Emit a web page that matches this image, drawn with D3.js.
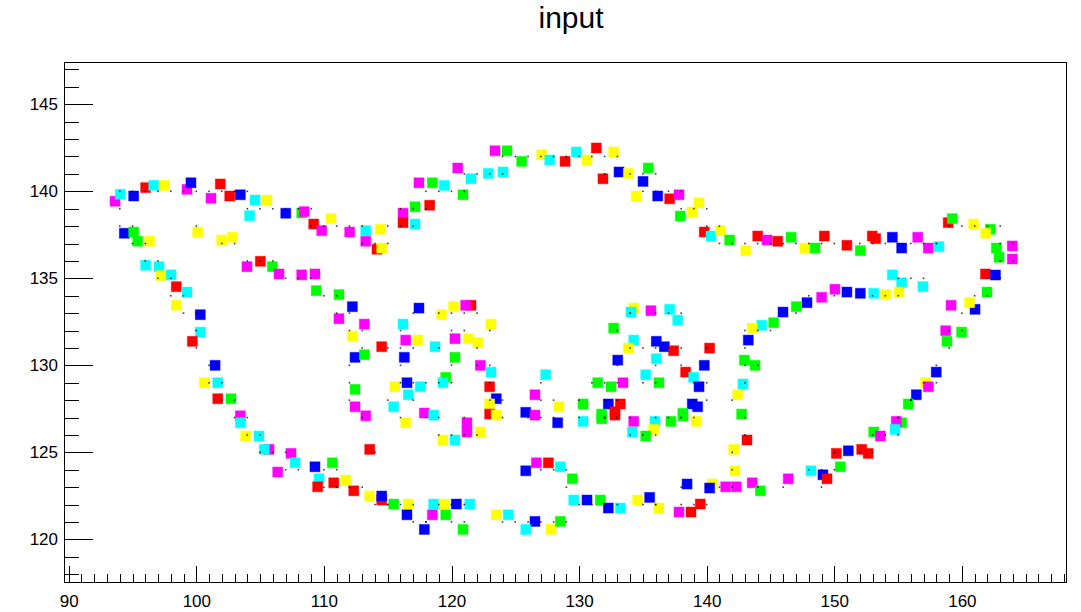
<!DOCTYPE html>
<html>
<head>
<meta charset="utf-8">
<script src="https://cdn.jsdelivr.net/npm/d3@7"></script>
<style>
  body { margin: 0; background: #fff; }
  text { font-family: "Liberation Sans", Arial, Helvetica, sans-serif; }
</style>
</head>
<body>
<div id="chart"></div>
<script>
const chartTitle = "input";
const xDomain = [89.63, 168.16];
const yDomain = [117.55, 147.43];
const xTickValues = [90, 100, 110, 120, 130, 140, 150, 160];
const yTickValues = [120, 125, 130, 135, 140, 145];

const markerColours = { r: "#ff0000", g: "#00ff00", b: "#0000ff", y: "#ffff00", m: "#ff00ff", c: "#00ffff" };

// coloured markers: [colour, x, y]
const markers = [
  ["m",93.63,139.43],["c",94.04,139.83],["b",95.09,139.73],["r",96.03,140.21],["c",96.66,140.34],["y",97.49,140.34],
  ["m",99.27,140.11],["b",99.58,140.49],["m",101.15,139.60],["r",101.88,140.42],["r",102.62,139.73],["b",103.45,139.80],
  ["c",104.60,139.50],["y",105.54,139.50],["c",104.18,138.60],["b",107.01,138.74],["g",108.26,138.75],["m",108.46,138.83],
  ["r",109.20,138.12],["m",109.83,137.74],["b",94.36,137.59],["g",95.09,137.66],["g",95.41,137.13],["y",96.35,137.13],
  ["y",100.11,137.66],["y",101.99,137.20],["y",102.82,137.36],["c",96.03,135.75],["c",97.08,135.67],["y",97.23,135.15],
  ["c",98.02,135.20],["m",103.97,135.67],["r",105.02,135.98],["g",105.96,135.67],["m",106.48,135.25],["m",108.26,135.20],
  ["m",109.30,135.25],["g",109.40,134.29],["r",98.43,134.52],["c",99.27,134.21],["y",98.43,133.45],["b",100.31,132.91],
  ["c",100.31,131.91],["r",99.69,131.38],["b",101.47,130.00],["y",100.63,129.00],["c",101.68,129.00],["r",101.68,128.08],
  ["g",102.72,128.08],["m",103.45,127.10],["c",103.45,126.70],["y",103.87,125.94],["c",104.91,125.94],["m",105.70,125.17],
  ["c",105.33,125.17],["m",107.42,124.94],["m",106.38,123.87],["c",107.74,124.40],["b",109.30,124.17],["c",109.62,123.48],
  ["r",109.51,123.02],["y",110.56,138.43],["m",112.02,137.66],["c",113.28,137.74],["m",113.28,137.13],["y",114.42,137.82],
  ["r",114.16,136.67],["y",114.53,136.74],["m",116.20,138.74],["r",116.20,138.20],["g",117.14,139.11],["c",117.14,138.12],
  ["r",118.29,139.20],["m",117.45,140.49],["g",118.50,140.49],["c",119.44,140.34],["g",120.90,139.80],["m",120.49,141.34],
  ["c",121.53,140.72],["c",122.88,141.03],["c",124.04,141.11],["m",123.41,142.33],["g",124.35,142.33],["g",125.50,141.72],
  ["y",127.07,142.10],["c",127.70,141.80],["r",128.90,141.72],["c",129.78,142.26],["y",130.62,141.80],["r",131.35,142.49],
  ["y",132.71,142.26],["r",131.87,140.72],["b",133.13,141.11],["y",133.86,141.03],["g",135.42,141.34],["b",135.01,140.57],
  ["y",134.48,139.73],["b",136.16,139.73],["r",137.10,139.57],["m",137.83,139.80],["y",139.40,139.34],["y",138.87,138.81],
  ["g",137.93,138.58],["r",139.81,137.66],["c",140.34,137.43],["y",141.07,137.74],["g",141.80,137.20],["y",143.06,136.59],
  ["r",144.00,137.43],["m",144.73,137.20],["r",145.56,137.13],["g",146.61,137.36],["y",147.70,136.74],["g",148.49,136.74],
  ["r",149.22,137.43],["r",150.99,136.90],["g",152.04,136.59],["r",152.98,137.43],["r",153.24,137.28],["b",154.55,137.36],
  ["b",155.28,136.74],["m",156.54,137.36],["m",157.37,136.74],["c",158.20,136.82],["r",158.93,138.20],["g",159.25,138.43],
  ["y",160.92,138.12],["g",162.23,137.82],["y",161.87,137.59],["g",162.70,136.74],["g",162.91,136.21],["m",163.95,136.86],
  ["m",163.95,136.11],["c",154.55,135.20],["c",155.28,134.75],["c",156.95,134.52],["r",161.85,135.25],["b",162.63,135.19],
  ["b",147.86,133.60],["m",149.01,133.91],["m",150.05,134.37],["b",150.99,134.21],["b",152.04,134.14],["c",153.09,134.14],
  ["y",154.03,134.06],["y",155.07,134.21],["g",161.97,134.21],["b",161.03,133.22],["y",160.61,133.60],["m",159.15,133.45],
  ["m",158.73,131.99],["g",159.98,131.91],["g",158.83,131.38],["b",157.99,129.61],["y",157.16,129.00],["m",157.37,128.77],
  ["b",156.43,128.31],["g",155.80,127.78],["y",134.28,133.29],["c",134.07,133.06],["m",135.63,133.14],["c",137.10,133.22],
  ["c",137.73,132.60],["g",132.71,132.14],["c",134.28,131.45],["y",133.86,130.99],["b",136.05,131.38],["b",136.68,131.07],
  ["r",137.41,130.84],["r",140.23,130.99],["b",133.03,130.30],["c",136.05,130.38],["b",139.81,130.00],["r",138.35,129.61],
  ["c",138.98,129.31],["b",139.40,128.77],["c",135.22,129.46],["g",131.46,129.00],["g",132.50,128.77],["m",133.44,129.00],
  ["g",136.26,129.00],["g",130.31,127.78],["b",132.29,127.78],["r",133.23,127.78],["r",132.81,127.33],["g",131.77,127.20],
  ["b",138.87,127.78],["b",139.29,127.62],["g",138.14,127.24],["g",147.02,133.37],["b",145.98,133.06],["g",145.25,132.45],
  ["c",144.31,132.30],["y",143.57,132.14],["b",143.26,131.45],["g",142.95,130.30],["g",143.79,130.00],["c",142.84,128.93],
  ["y",142.43,128.31],["g",142.74,127.20],["g",111.18,134.06],["b",112.23,133.37],["m",111.18,132.68],["m",113.17,132.37],
  ["b",117.45,133.29],["y",119.23,132.91],["y",120.17,133.37],["r",121.53,133.45],["m",121.11,133.45],["c",116.20,132.37],
  ["y",123.10,132.37],["y",112.23,131.68],["r",114.53,131.07],["m",116.41,131.45],["y",117.35,131.45],["c",118.71,131.07],
  ["m",120.27,131.53],["y",121.32,131.53],["y",122.05,131.30],["b",112.44,130.46],["g",113.17,130.61],["b",116.30,130.46],
  ["g",120.27,130.46],["m",122.26,130.00],["c",123.10,129.61],["c",127.38,129.46],["g",119.55,129.31],["c",119.33,129.00],
  ["b",116.51,129.00],["y",115.57,128.77],["c",117.55,128.77],["g",112.44,128.62],["c",116.61,128.31],["r",122.99,128.77],
  ["b",123.51,128.08],["y",122.99,127.78],["m",126.54,128.31],["m",112.44,127.62],["c",115.47,127.62],["m",113.28,127.10],
  ["m",117.87,127.26],["c",118.60,127.14],["r",122.99,127.20],["y",123.51,127.14],["b",125.82,127.30],["m",126.54,127.14],
  ["y",128.42,127.62],["y",116.41,126.70],["m",121.21,126.70],["m",121.21,126.17],["y",122.26,126.17],["b",128.32,126.70],
  ["y",119.33,125.71],["c",120.27,125.71],["r",113.59,125.17],["g",110.66,124.40],["r",110.77,123.25],["y",111.71,123.41],
  ["r",112.34,122.79],["y",113.59,122.49],["r",114.53,122.26],["b",114.53,122.49],["g",115.47,122.03],["y",116.61,122.03],
  ["b",116.51,121.41],["c",118.60,122.03],["y",119.44,122.03],["b",120.38,122.03],["c",121.43,122.03],["m",118.50,121.41],
  ["g",119.55,121.41],["b",117.87,120.57],["g",120.90,120.57],["m",126.65,124.40],["r",127.59,124.40],["c",128.53,124.17],
  ["b",125.82,123.94],["y",123.51,121.41],["c",124.45,121.41],["b",126.54,121.03],["c",125.82,120.57],["y",127.80,120.57],
  ["g",128.53,121.03],["c",130.31,126.78],["g",131.77,126.93],["r",132.81,127.14],["m",134.28,126.78],["c",134.17,126.17],
  ["c",135.95,126.78],["y",135.85,126.32],["g",135.22,125.94],["g",137.20,126.78],["g",138.14,127.09],["y",139.18,126.78],
  ["r",143.16,125.71],["y",142.12,125.17],["y",142.22,123.94],["g",129.47,123.48],["b",138.46,123.18],["y",140.44,123.18],
  ["b",140.23,122.95],["m",141.49,123.02],["m",142.32,123.02],["m",143.57,123.25],["g",144.20,122.79],["m",146.39,123.48],
  ["c",129.58,122.26],["b",130.62,122.26],["g",131.66,122.26],["b",132.29,121.80],["c",133.23,121.80],["y",134.59,122.26],
  ["b",135.53,122.41],["y",136.26,121.80],["m",137.83,121.57],["r",138.77,121.57],["r",139.50,122.03],["g",155.28,126.70],
  ["m",154.86,126.78],["c",154.76,126.32],["g",153.09,126.17],["m",153.61,125.94],["r",150.16,124.94],["b",151.10,125.09],
  ["r",152.15,125.17],["r",152.66,124.94],["g",150.47,124.17],["c",148.17,123.94],["b",149.11,123.71],["r",149.43,123.48]
];

// input points on the integer grid: [x, y]
const inputPoints = [
  [94,139],[94,140],[95,140],[96,140],[97,140],[98,140],[99,140],[100,140],[101,140],[102,140],[103,140],[104,140],
  [105,139],[106,139],[104,139],[107,139],[108,139],[109,139],[109,138],[110,138],[94,138],[95,138],[95,137],[96,137],
  [100,138],[102,137],[103,137],[96,136],[97,136],[97,135],[98,135],[104,136],[105,136],[106,136],[107,135],[108,135],
  [109,135],[110,134],[98,134],[99,134],[99,133],[100,133],[100,132],[100,131],[101,130],[101,129],[102,129],[102,128],
  [103,128],[103,127],[104,127],[104,126],[105,126],[106,125],[105,125],[107,125],[107,124],[108,124],[109,124],[110,124],
  [110,123],[111,138],[112,138],[113,138],[113,137],[115,138],[114,137],[115,137],[116,139],[116,138],[117,139],[117,138],
  [118,139],[118,140],[119,140],[120,140],[121,140],[121,141],[122,141],[123,141],[124,141],[124,142],[125,142],[126,142],
  [127,142],[128,142],[129,142],[130,142],[131,142],[132,142],[133,142],[132,141],[133,141],[134,141],[136,141],[135,141],
  [135,140],[136,140],[137,140],[138,140],[140,139],[139,139],[138,139],[140,138],[141,137],[141,138],[142,137],[143,137],
  [144,137],[145,137],[146,137],[147,137],[148,137],[149,137],[150,137],[151,137],[152,137],[153,137],[154,137],[155,137],
  [156,137],[157,137],[158,137],[158,137],[159,138],[160,138],[161,138],[163,138],[162,138],[163,137],[163,136],[164,137],
  [164,136],[155,135],[156,135],[157,135],[162,135],[163,135],[148,134],[149,134],[150,134],[151,134],[152,134],[153,134],
  [154,134],[155,134],[162,134],[161,133],[161,134],[160,133],[159,132],[160,132],[159,131],[158,130],[157,129],[158,129],
  [156,128],[156,128],[134,133],[134,133],[136,133],[137,133],[138,133],[133,132],[135,131],[134,131],[136,131],[137,131],
  [138,131],[140,131],[133,130],[136,130],[140,130],[138,130],[139,129],[140,129],[135,129],[131,129],[132,129],[133,129],
  [136,129],[130,128],[132,128],[133,128],[133,127],[132,127],[139,128],[140,128],[138,127],[147,133],[146,133],[145,132],
  [144,132],[143,132],[143,131],[143,130],[144,130],[143,129],[142,128],[143,127],[111,134],[112,133],[111,133],[113,132],
  [117,133],[119,133],[120,133],[122,133],[121,133],[116,132],[123,132],[112,132],[115,131],[116,131],[117,131],[119,131],
  [120,132],[121,132],[122,131],[112,130],[113,131],[116,130],[120,130],[122,130],[123,130],[127,129],[120,129],[119,129],
  [117,129],[116,129],[118,129],[112,129],[117,128],[123,129],[124,128],[123,128],[127,128],[112,128],[115,128],[113,127],
  [118,127],[119,127],[123,127],[124,127],[126,127],[127,127],[128,128],[116,127],[121,127],[121,126],[122,126],[128,127],
  [119,126],[120,126],[114,125],[111,124],[111,123],[112,123],[113,123],[114,122],[115,122],[115,122],[116,122],[117,122],
  [117,121],[119,122],[120,122],[120,122],[121,122],[118,121],[120,121],[118,121],[121,121],[127,124],[128,124],[129,124],
  [126,124],[124,121],[125,121],[127,121],[126,121],[128,121],[129,121],[130,127],[132,127],[133,127],[134,127],[134,126],
  [136,127],[136,126],[135,126],[137,127],[138,127],[139,127],[143,126],[142,125],[142,124],[129,123],[138,123],[140,123],
  [140,123],[141,123],[142,123],[144,123],[144,123],[146,123],[130,122],[131,122],[132,122],[132,122],[133,122],[135,122],
  [136,122],[136,122],[138,122],[139,122],[140,122],[155,127],[155,127],[155,126],[153,126],[154,126],[150,125],[151,125],
  [152,125],[153,125],[150,124],[148,124],[149,124],[149,123]
];

const W = 1081, H = 612;
const frame = { left: 64, right: 1066, top: 62, bottom: 582 };

const svg = d3.select("#chart").append("svg")
    .attr("width", W)
    .attr("height", H)
    .style("display", "block");

svg.append("rect").attr("width", W).attr("height", H).attr("fill", "#fff");

const x = d3.scaleLinear().domain(xDomain).range([frame.left, frame.right]);
const y = d3.scaleLinear().domain(yDomain).range([frame.bottom, frame.top]);

// title
svg.append("text")
    .attr("x", 571)
    .attr("y", 28)
    .attr("text-anchor", "middle")
    .style("font-size", "30px")
    .text(chartTitle);

// minor ticks every unit
const xMinor = d3.range(Math.ceil(xDomain[0]), xDomain[1], 1);
const yMinor = d3.range(Math.ceil(yDomain[0]), yDomain[1], 1);

svg.append("g")
    .attr("transform", `translate(0,${frame.bottom})`)
    .call(d3.axisBottom(x).tickValues(xMinor).tickSize(-8).tickFormat(""))
    .call(g => g.select(".domain").remove());

svg.append("g")
    .attr("transform", `translate(0,${frame.bottom})`)
    .call(d3.axisBottom(x).tickValues(xTickValues).tickSize(-16).tickPadding(13))
    .call(g => g.select(".domain").remove())
    .call(g => g.selectAll("text").style("font-size", "17px").attr("fill", "#000"));

svg.append("g")
    .attr("transform", `translate(${frame.left},0)`)
    .call(d3.axisLeft(y).tickValues(yMinor).tickSize(-15).tickFormat(""))
    .call(g => g.select(".domain").remove());

svg.append("g")
    .attr("transform", `translate(${frame.left},0)`)
    .call(d3.axisLeft(y).tickValues(yTickValues).tickSize(-29).tickPadding(6))
    .call(g => g.select(".domain").remove())
    .call(g => g.selectAll("text").style("font-size", "17px").attr("fill", "#000"));

svg.selectAll(".tick line").attr("stroke", "#000").attr("shape-rendering", "crispEdges");

// frame
svg.append("rect")
    .attr("x", frame.left)
    .attr("y", frame.top)
    .attr("width", frame.right - frame.left)
    .attr("height", frame.bottom - frame.top)
    .attr("fill", "none")
    .attr("stroke", "#000")
    .attr("shape-rendering", "crispEdges");

const plot = svg.append("g");
const size = 10;

plot.selectAll("rect.marker")
    .data(markers)
    .enter().append("rect")
    .attr("class", "marker")
    .attr("x", d => x(d[1]) - size / 2)
    .attr("y", d => y(d[2]) - size / 2)
    .attr("width", size)
    .attr("height", size)
    .attr("fill", d => markerColours[d[0]])
    .attr("stroke", d => markerColours[d[0]])
    .attr("stroke-opacity", 0.45)
    .attr("stroke-width", 1);

plot.selectAll("rect.dot")
    .data(inputPoints)
    .enter().append("rect")
    .attr("class", "dot")
    .attr("x", d => x(d[0]) - 0.8)
    .attr("y", d => y(d[1]) - 0.8)
    .attr("width", 1.6)
    .attr("height", 1.6)
    .attr("fill", "#000")
    .attr("fill-opacity", 0.75);
</script>
</body>
</html>
